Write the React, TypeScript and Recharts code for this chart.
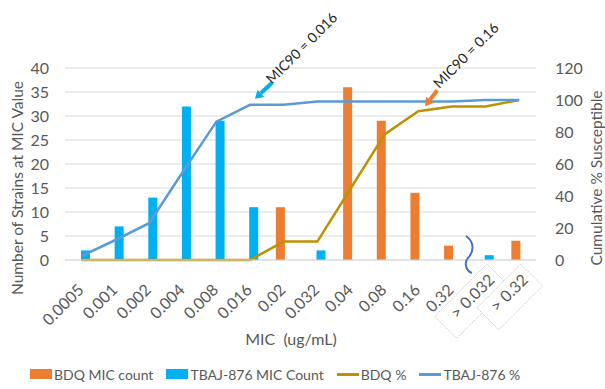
import React from 'react';
import { ComposedChart, Bar, Line, XAxis, YAxis, CartesianGrid, Legend, ReferenceDot } from 'recharts';

const categories = ['0.0005', '0.001', '0.002', '0.004', '0.008', '0.016', '0.02', '0.032', '0.04', '0.08', '0.16', '0.32', '> 0.032', '> 0.32'];
const bdqCount = [null, null, null, null, null, null, 11, null, 36, 29, 14, 3, null, 4];
const tbajCount = [2, 7, 13, 32, 29, 11, null, 2, null, null, null, null, 1, null];
const bdqPct = [0, 0, 0, 0, 0, 0, 11.5, 11.5, 45, 78.5, 93, 96, 96, 100];
const tbajPct = [2.5, 12.5, 23, 55, 86.5, 97, 97, 99, 99, 99, 99, 99, 100, 100];
const leftTicks = [0, 5, 10, 15, 20, 25, 30, 35, 40];
const rightTicks = [0, 20, 40, 60, 80, 100, 120];
const boxedLabels = ['> 0.032', '> 0.32'];
const seriesNames = ['BDQ MIC count', 'TBAJ-876 MIC Count', 'BDQ %', 'TBAJ-876 %'];

const data = categories.map((c, i) => ({
  mic: c,
  bdq: bdqCount[i],
  tbaj: tbajCount[i],
  bdqPct: bdqPct[i],
  tbajPct: tbajPct[i],
}));

const FONT = 'Lato, "Open Sans", sans-serif';
const GREY = '#595959';
const ORANGE = '#ED7D31';
const CYAN = '#00B0F0';
const GOLD = '#BF9000';
const BLUE = '#5B9BD5';

const XTick = (props: any) => {
  const { x, y, payload } = props;
  const label: string = payload.value;
  const boxed = boxedLabels.includes(label);
  const ex = x + (boxed ? 10 : 3);
  const ey = y + (boxed ? 21 : 31);
  const L = label === '> 0.032' ? 56 : 44;
  return (
    <g transform={`rotate(-45 ${ex} ${ey})`}>
      {boxed && (
        <rect x={ex - L - 12} y={ey - 18} width={L + 18} height={31} fill="#fff" stroke="#c8c8c8" strokeWidth={0.8} strokeDasharray="2 1" />
      )}
      <text x={ex} y={ey} textAnchor="end" fontFamily={FONT} fontSize={16} fill={GREY}>
        {label}
      </text>
    </g>
  );
};

const Callout = (color: string, text: string, tipDx: number, tipDy: number, startDx: number, startDy: number, textDx: number, textDy: number) =>
  (props: any) => {
    const { cx, cy } = props;
    if (cx == null || cy == null) return null;
    const tx = cx + tipDx;
    const ty = cy + tipDy;
    const sx = cx + startDx;
    const sy = cy + startDy;
    const len = Math.hypot(sx - tx, sy - ty);
    const ux = (sx - tx) / len;
    const uy = (sy - ty) / len;
    const bx = tx + ux * 8;
    const by = ty + uy * 8;
    const px = -uy;
    const py = ux;
    const ax = cx + textDx;
    const ay = cy + textDy;
    return (
      <g>
        <line x1={sx} y1={sy} x2={bx} y2={by} stroke={color} strokeWidth={4} />
        <polygon points={`${tx},${ty} ${bx + px * 5},${by + py * 5} ${bx - px * 5},${by - py * 5}`} fill={color} />
        <text x={ax} y={ay} transform={`rotate(-45 ${ax} ${ay})`} fontFamily={FONT} fontSize={14} fill="#262626">
          {text}
        </text>
      </g>
    );
  };

const Brace = (props: any) => {
  const { cx, cy } = props;
  if (cx == null || cy == null) return null;
  const x = cx + 17;
  const y = cy;
  return (
    <path
      d={`M ${x - 3} ${y - 24} C ${x + 6} ${y - 18} ${x + 5} ${y - 8} ${x - 1} ${y - 2} C ${x - 5} ${y + 3} ${x - 3} ${y + 11} ${x + 3} ${y + 13}`}
      fill="none"
      stroke="#4472C4"
      strokeWidth={2}
    />
  );
};

const LegendContent = (props: any) => {
  const items = [...(props.payload || [])].sort((a: any, b: any) => seriesNames.indexOf(a.value) - seriesNames.indexOf(b.value));
  return (
    <div style={{ display: 'flex', alignItems: 'center', height: 30, paddingLeft: 30, fontFamily: FONT, fontSize: 14, color: GREY, whiteSpace: 'nowrap' }}>
      {items.map((p: any, i: number) => (
        <div key={i} style={{ display: 'flex', alignItems: 'center', marginRight: 13 }}>
          {p.type === 'line' ? (
            <span style={{ display: 'inline-block', width: 22, height: 3, background: p.color, marginRight: 2 }} />
          ) : (
            <span style={{ display: 'inline-block', width: 22, height: 10, background: p.color, marginRight: 2 }} />
          )}
          <span>{p.value}</span>
        </div>
      ))}
    </div>
  );
};

const LeftTitle = () => (
  <text x={17} y={188} transform="rotate(-90 17 188)" textAnchor="middle" dominantBaseline="central" fontFamily={FONT} fontSize={15.5} fill={GREY}>
    Number of Strains at MIC Value
  </text>
);

const RightTitle = () => (
  <text x={596} y={178} transform="rotate(-90 596 178)" textAnchor="middle" dominantBaseline="central" fontFamily={FONT} fontSize={15.5} fill={GREY}>
    Cumulative % Susceptible
  </text>
);

const XTitle = () => (
  <text x={291} y={338} textAnchor="middle" dominantBaseline="central" fontFamily={FONT} fontSize={16} fill={GREY}>
    {'MIC\u00a0 (ug/mL)'}
  </text>
);

export default function App() {
  return (
    <div style={{ position: 'absolute', left: 0, top: 0, width: 605, height: 389, background: '#fff' }}>
      <ComposedChart width={605} height={389} data={data} margin={{ top: 68, right: 0, bottom: 0, left: 0 }} barGap={-2}>
        <CartesianGrid vertical={false} stroke="#d9d9d9" yAxisId="left" />
        <XAxis
          dataKey="mic"
          height={99}
          interval={0}
          tickLine={false}
          tickSize={0}
          tickMargin={0}
          axisLine={{ stroke: '#d9d9d9' }}
          tick={<XTick />}
          label={<XTitle />}
        />
        <YAxis
          yAxisId="left"
          width={65}
          domain={[0, 40]}
          ticks={leftTicks}
          axisLine={false}
          tickLine={false}
          tickSize={0}
          tickMargin={16}
          tick={{ fill: GREY, fontSize: 16, fontFamily: FONT }}
          label={<LeftTitle />}
        />
        <YAxis
          yAxisId="right"
          orientation="right"
          width={69}
          domain={[0, 120]}
          ticks={rightTicks}
          axisLine={false}
          tickLine={false}
          tickSize={0}
          tickMargin={19}
          tick={{ fill: GREY, fontSize: 16, fontFamily: FONT, textAnchor: 'start' }}
          label={<RightTitle />}
        />
        <Bar yAxisId="left" dataKey="bdq" name="BDQ MIC count" fill={ORANGE} barSize={9} isAnimationActive={false} />
        <Bar yAxisId="left" dataKey="tbaj" name="TBAJ-876 MIC Count" fill={CYAN} barSize={9} isAnimationActive={false} />
        <Line yAxisId="right" type="linear" dataKey="bdqPct" name="BDQ %" stroke={GOLD} strokeWidth={2.5} dot={false} activeDot={false} isAnimationActive={false} legendType="line" />
        <Line yAxisId="right" type="linear" dataKey="tbajPct" name="TBAJ-876 %" stroke={BLUE} strokeWidth={2.5} dot={false} activeDot={false} isAnimationActive={false} legendType="line" />
        <ReferenceDot yAxisId="left" x="0.32" y={0} shape={Brace} ifOverflow="visible" />
        <ReferenceDot yAxisId="right" x="0.016" y={97} shape={Callout(CYAN, 'MIC90 = 0.016', 5, -6, 22, -22, 22, -20)} ifOverflow="visible" />
        <ReferenceDot yAxisId="right" x="0.16" y={93} shape={Callout(ORANGE, 'MIC90 = 0.16', 7, -5, 19, -21, 21, -22)} ifOverflow="visible" />
        <Legend verticalAlign="bottom" height={30} content={<LegendContent />} wrapperStyle={{ left: 0, width: 605 }} />
      </ComposedChart>
    </div>
  );
}
